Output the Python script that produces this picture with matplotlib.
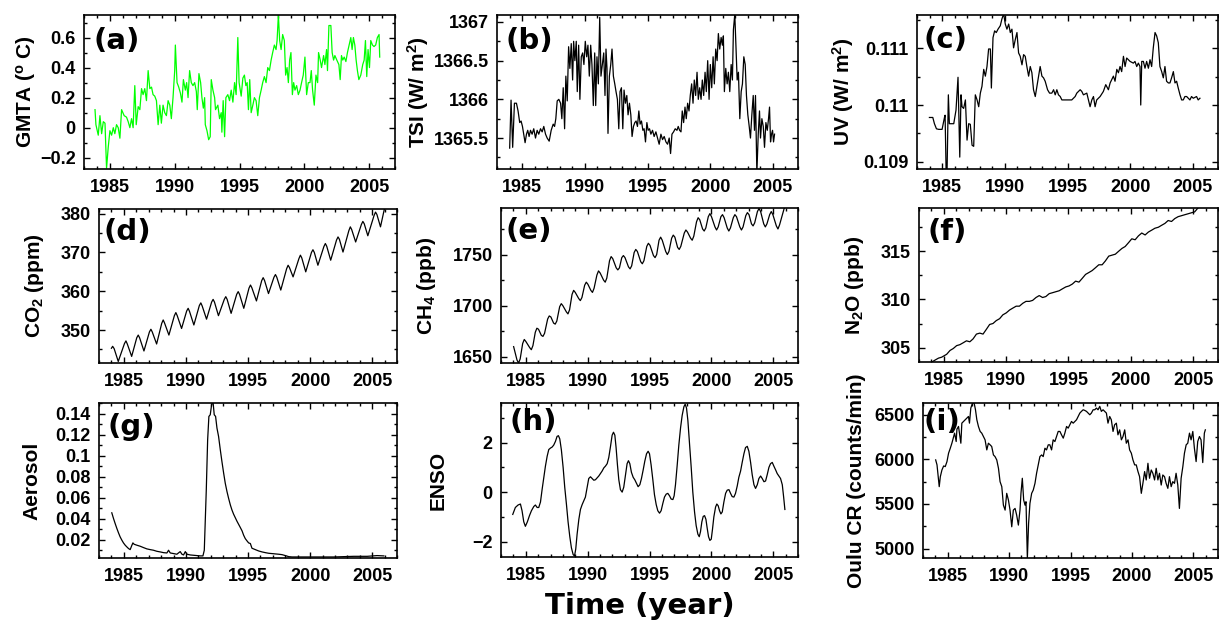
import matplotlib.pyplot as plt
from matplotlib.ticker import MultipleLocator, FixedLocator, FuncFormatter
from matplotlib import transforms

plt.rcParams['font.family'] = 'Liberation Sans'
plt.rcParams['font.weight'] = 'bold'
plt.rcParams['mathtext.fontset'] = 'custom'
plt.rcParams['mathtext.rm'] = 'Liberation Sans:bold'
plt.rcParams['mathtext.it'] = 'Liberation Sans:bold'
plt.rcParams['mathtext.bf'] = 'Liberation Sans:bold'
plt.rcParams['mathtext.default'] = 'rm'

# (a) global mean temperature anomaly
gmta_t = [1983.85, 1983.92, 1984.10, 1984.23, 1984.36, 1984.49, 1984.62, 1984.74, 1984.87, 1985.00,
          1985.13, 1985.26, 1985.38, 1985.51, 1985.64, 1985.77, 1985.90, 1986.10, 1986.28, 1986.41,
          1986.54, 1986.67, 1986.79, 1986.92, 1987.03, 1987.18, 1987.31, 1987.44, 1987.56, 1987.69,
          1987.82, 1987.95, 1988.08, 1988.21, 1988.33, 1988.46, 1988.59, 1988.72, 1988.85, 1988.97,
          1989.10, 1989.23, 1989.36, 1989.49, 1989.62, 1989.74, 1989.87, 1990.00, 1990.05, 1990.18,
          1990.31, 1990.44, 1990.56, 1990.67, 1990.82, 1990.92, 1991.03, 1991.15, 1991.28, 1991.41,
          1991.54, 1991.67, 1991.74, 1991.87, 1992.00, 1992.10, 1992.21, 1992.31, 1992.36, 1992.49,
          1992.62, 1992.74, 1992.82, 1992.95, 1993.08, 1993.15, 1993.33, 1993.46, 1993.59, 1993.64,
          1993.74, 1993.85, 1993.95, 1994.10, 1994.23, 1994.36, 1994.49, 1994.62, 1994.74, 1994.87,
          1994.97, 1995.13, 1995.26, 1995.38, 1995.49, 1995.59, 1995.69, 1995.79, 1995.90, 1996.03,
          1996.15, 1996.28, 1996.41, 1996.54, 1996.67, 1996.79, 1996.92, 1997.05, 1997.18, 1997.31,
          1997.44, 1997.56, 1997.69, 1997.82, 1997.90, 1998.00, 1998.10, 1998.21, 1998.33, 1998.46,
          1998.56, 1998.67, 1998.77, 1998.87, 1998.97, 1999.08, 1999.18, 1999.28, 1999.41, 1999.54,
          1999.67, 1999.79, 1999.92, 2000.05, 2000.18, 2000.31, 2000.44, 2000.54, 2000.64, 2000.77,
          2000.90, 2001.03, 2001.10, 2001.23, 2001.33, 2001.49, 2001.59, 2001.72, 2001.79, 2001.90,
          2002.05, 2002.15, 2002.26, 2002.36, 2002.51, 2002.67, 2002.77, 2002.87, 2002.97, 2003.08,
          2003.21, 2003.33, 2003.46, 2003.59, 2003.69, 2003.79, 2003.90, 2004.00, 2004.10, 2004.21,
          2004.36, 2004.51, 2004.62, 2004.72, 2004.82, 2004.92, 2005.03, 2005.13, 2005.26, 2005.38,
          2005.51, 2005.64, 2005.77, 2005.82]
gmta_v = [0.12, 0.02, -0.05, 0.08, -0.04, 0.04, 0.03, -0.27, -0.13, -0.02,
          -0.05, 0.0, -0.04, 0.02, 0.0, -0.07, 0.12, 0.08, 0.07, 0.04,
          0.0, 0.06, 0.0, 0.28, 0.02, 0.14, 0.12, 0.26, 0.22, 0.26,
          0.18, 0.38, 0.26, 0.27, 0.22, 0.21, 0.18, 0.02, 0.15, 0.03,
          0.15, 0.1, 0.08, 0.18, 0.15, 0.06, 0.2, 0.38, 0.55, 0.3,
          0.27, 0.23, 0.17, 0.32, 0.25, 0.3, 0.2, 0.38, 0.3, 0.28,
          0.3, 0.24, 0.12, 0.36, 0.3, 0.2, 0.13, 0.2, 0.02, -0.02,
          -0.08, -0.06, 0.32, 0.25, 0.2, 0.12, 0.15, 0.06, 0.1, -0.03,
          0.18, -0.06, 0.2, 0.22, 0.18, 0.25, 0.17, 0.3, 0.22, 0.6,
          0.3, 0.21, 0.33, 0.35, 0.28, 0.3, 0.12, 0.32, 0.1, 0.15,
          0.2, 0.18, 0.08, 0.2, 0.25, 0.3, 0.34, 0.3, 0.4, 0.38,
          0.45, 0.5, 0.55, 0.52, 0.58, 0.75, 0.58, 0.52, 0.62, 0.58,
          0.35, 0.4, 0.3, 0.45, 0.5, 0.22, 0.3, 0.25, 0.28, 0.22,
          0.25, 0.3, 0.35, 0.47, 0.22, 0.3, 0.3, 0.38, 0.25, 0.15,
          0.35, 0.3, 0.5, 0.45, 0.4, 0.48, 0.42, 0.52, 0.38, 0.68,
          0.68, 0.5, 0.45, 0.48, 0.45, 0.42, 0.32, 0.48, 0.45, 0.47,
          0.44, 0.5, 0.55, 0.6, 0.52, 0.6, 0.55, 0.45, 0.38, 0.32,
          0.35, 0.42, 0.45, 0.58, 0.34, 0.52, 0.4, 0.58, 0.55, 0.54,
          0.55, 0.6, 0.62, 0.47]

# (b) total solar irradiance
tsi_t = [1984.01, 1984.12, 1984.25, 1984.39, 1984.55, 1984.68, 1984.81, 1984.92, 1985.03, 1985.13,
         1985.24, 1985.35, 1985.45, 1985.56, 1985.67, 1985.80, 1985.93, 1986.07, 1986.20, 1986.33,
         1986.47, 1986.60, 1986.73, 1986.87, 1987.00, 1987.16, 1987.32, 1987.48, 1987.59, 1987.69,
         1987.80, 1987.93, 1988.07, 1988.17, 1988.28, 1988.39, 1988.49, 1988.60, 1988.71, 1988.81,
         1988.92, 1989.03, 1989.11, 1989.21, 1989.32, 1989.40, 1989.51, 1989.61, 1989.72, 1989.83,
         1989.93, 1990.04, 1990.15, 1990.25, 1990.36, 1990.47, 1990.57, 1990.68, 1990.79, 1990.87,
         1990.97, 1991.08, 1991.19, 1991.29, 1991.40, 1991.51, 1991.61, 1991.69, 1991.77, 1991.85,
         1991.96, 1992.07, 1992.17, 1992.28, 1992.39, 1992.49, 1992.60, 1992.71, 1992.81, 1992.92,
         1993.03, 1993.13, 1993.24, 1993.35, 1993.45, 1993.56, 1993.67, 1993.77, 1993.88, 1993.99,
         1994.09, 1994.20, 1994.31, 1994.41, 1994.52, 1994.63, 1994.73, 1994.84, 1994.95, 1995.05,
         1995.16, 1995.27, 1995.40, 1995.53, 1995.67, 1995.80, 1995.93, 1996.07, 1996.20, 1996.33,
         1996.47, 1996.60, 1996.73, 1996.84, 1996.95, 1997.08, 1997.21, 1997.35, 1997.45, 1997.56,
         1997.67, 1997.77, 1997.88, 1997.99, 1998.09, 1998.20, 1998.31, 1998.41, 1998.52, 1998.63,
         1998.73, 1998.84, 1998.95, 1999.05, 1999.16, 1999.27, 1999.37, 1999.48, 1999.59, 1999.69,
         1999.80, 1999.91, 2000.01, 2000.12, 2000.23, 2000.33, 2000.44, 2000.55, 2000.65, 2000.76,
         2000.87, 2000.97, 2001.05, 2001.13, 2001.24, 2001.35, 2001.45, 2001.56, 2001.67, 2001.77,
         2001.85, 2001.96, 2002.07, 2002.15, 2002.25, 2002.36, 2002.47, 2002.57, 2002.68, 2002.79,
         2002.89, 2003.00, 2003.11, 2003.21, 2003.32, 2003.43, 2003.53, 2003.61, 2003.72, 2003.83,
         2003.93, 2004.01, 2004.12, 2004.23, 2004.33, 2004.44, 2004.55, 2004.65, 2004.73, 2004.81,
         2004.89, 2004.97, 2005.05, 2005.13]
tsi_v = [1365.37, 1365.99, 1365.38, 1365.95, 1365.95, 1365.85, 1365.70, 1365.72, 1365.65, 1365.55,
         1365.44, 1365.55, 1365.60, 1365.52, 1365.60, 1365.55, 1365.62, 1365.50, 1365.60, 1365.55,
         1365.62, 1365.58, 1365.65, 1365.55, 1365.50, 1365.46, 1365.60, 1365.68, 1365.65, 1365.75,
         1365.98, 1366.00, 1365.95, 1365.75, 1366.15, 1365.62, 1366.30, 1365.98, 1366.68, 1366.40,
         1366.72, 1366.25, 1366.75, 1366.50, 1366.75, 1366.10, 1366.70, 1366.00, 1366.55, 1366.60,
         1366.45, 1366.75, 1366.55, 1366.70, 1366.30, 1366.70, 1366.45, 1365.92, 1366.60, 1365.92,
         1366.55, 1366.20, 1367.06, 1366.30, 1366.45, 1366.60, 1366.05, 1366.65, 1366.40, 1365.56,
         1366.30, 1366.45, 1366.65, 1366.30, 1366.20, 1366.10, 1366.00, 1365.62, 1366.10, 1366.15,
         1365.62, 1366.12, 1365.95, 1366.05, 1365.80, 1365.95, 1365.80, 1365.52, 1365.65, 1365.70,
         1365.72, 1365.65, 1365.85, 1365.68, 1365.72, 1365.60, 1365.62, 1365.45, 1365.70, 1365.60,
         1365.62, 1365.55, 1365.60, 1365.52, 1365.58, 1365.50, 1365.42, 1365.55, 1365.48, 1365.52,
         1365.45, 1365.42, 1365.50, 1365.30, 1365.55, 1365.58, 1365.62, 1365.60, 1365.65, 1365.60,
         1365.58, 1365.85, 1365.70, 1365.90, 1365.75, 1365.95, 1365.85, 1366.05, 1366.20, 1365.95,
         1366.25, 1366.05, 1366.35, 1366.00, 1366.15, 1366.00, 1366.25, 1366.05, 1366.35, 1366.10,
         1366.50, 1366.00, 1366.45, 1366.15, 1366.55, 1366.20, 1366.65, 1366.50, 1366.85, 1366.65,
         1366.80, 1366.70, 1366.82, 1366.10, 1366.40, 1366.20, 1366.35, 1366.10, 1366.45, 1366.25,
         1366.90, 1367.10, 1366.60, 1366.25, 1366.35, 1365.75, 1366.10, 1366.20, 1366.55, 1366.45,
         1366.05, 1365.80, 1365.65, 1365.50, 1365.80, 1366.05, 1365.60, 1366.05, 1365.05, 1365.55,
         1365.85, 1365.50, 1365.75, 1365.65, 1365.38, 1365.70, 1365.60, 1365.75, 1365.90, 1365.45,
         1365.55, 1365.60, 1365.45, 1365.55]

# (c) UV irradiance
uv_t = [1983.99, 1984.26, 1984.39, 1984.55, 1984.73, 1985.00, 1985.19, 1985.24, 1985.32, 1985.40,
        1985.50, 1985.58, 1985.80, 1985.93, 1986.11, 1986.27, 1986.41, 1986.51, 1986.59, 1986.72,
        1986.86, 1986.99, 1987.12, 1987.25, 1987.39, 1987.52, 1987.65, 1987.79, 1987.92, 1988.05,
        1988.18, 1988.32, 1988.45, 1988.58, 1988.71, 1988.85, 1988.93, 1989.06, 1989.19, 1989.32,
        1989.46, 1989.64, 1989.77, 1989.91, 1990.04, 1990.17, 1990.31, 1990.44, 1990.57, 1990.70,
        1990.84, 1990.97, 1991.10, 1991.23, 1991.37, 1991.50, 1991.63, 1991.76, 1991.90, 1992.03,
        1992.16, 1992.29, 1992.43, 1992.56, 1992.69, 1992.82, 1992.96, 1993.09, 1993.22, 1993.41,
        1993.57, 1993.75, 1993.89, 1994.02, 1994.15, 1994.28, 1994.42, 1994.55, 1994.81, 1995.08,
        1995.34, 1995.61, 1995.74, 1996.01, 1996.14, 1996.27, 1996.54, 1996.67, 1996.80, 1996.94,
        1997.07, 1997.20, 1997.33, 1997.60, 1997.86, 1998.05, 1998.26, 1998.40, 1998.66, 1998.79,
        1998.93, 1999.06, 1999.19, 1999.32, 1999.46, 1999.59, 1999.72, 1999.99, 2000.25, 2000.38,
        2000.52, 2000.65, 2000.78, 2000.84, 2000.92, 2001.05, 2001.18, 2001.31, 2001.45, 2001.58,
        2001.71, 2001.84, 2001.98, 2002.11, 2002.24, 2002.37, 2002.51, 2002.64, 2002.77, 2002.90,
        2003.04, 2003.17, 2003.30, 2003.44, 2003.57, 2003.70, 2003.83, 2003.97, 2004.10, 2004.23,
        2004.36, 2004.50, 2004.63, 2004.76, 2004.89, 2005.03, 2005.29, 2005.42, 2005.56]
uv_v = [0.10978, 0.10978, 0.10967, 0.10958, 0.10957, 0.10957, 0.10978, 0.10982, 0.10884, 0.10887,
        0.11018, 0.10967, 0.10967, 0.10967, 0.10991, 0.11049, 0.10908, 0.11018, 0.10997, 0.10994,
        0.11009, 0.10938, 0.10967, 0.10966, 0.10929, 0.10927, 0.11018, 0.11009, 0.10997, 0.11021,
        0.11033, 0.11063, 0.11051, 0.11068, 0.11099, 0.11099, 0.11030, 0.11119, 0.11131, 0.11128,
        0.11134, 0.11140, 0.11152, 0.11161, 0.11143, 0.11134, 0.11143, 0.11128, 0.11134, 0.11101,
        0.11116, 0.11128, 0.11092, 0.11086, 0.11071, 0.11089, 0.11086, 0.11068, 0.11051, 0.11068,
        0.11057, 0.11027, 0.11015, 0.11033, 0.11051, 0.11068, 0.11051, 0.11048, 0.11042, 0.11027,
        0.11021, 0.11021, 0.11027, 0.11018, 0.11027, 0.11018, 0.11015, 0.11009, 0.11009, 0.11009,
        0.11009, 0.11015, 0.11021, 0.11027, 0.11024, 0.11018, 0.11021, 0.11009, 0.10997, 0.11009,
        0.11015, 0.10997, 0.11009, 0.11015, 0.11024, 0.11036, 0.11027, 0.11039, 0.11051, 0.11042,
        0.11063, 0.11057, 0.11068, 0.11059, 0.11086, 0.11068, 0.11083, 0.11077, 0.11074, 0.11077,
        0.11068, 0.11074, 0.11068, 0.11000, 0.11077, 0.11077, 0.11065, 0.11077, 0.11065, 0.11080,
        0.11068, 0.11101, 0.11128, 0.11122, 0.11110, 0.11068, 0.11059, 0.11048, 0.11068, 0.11042,
        0.11039, 0.11039, 0.11048, 0.11059, 0.11039, 0.11042, 0.11030, 0.11018, 0.11009, 0.11009,
        0.11015, 0.11015, 0.11012, 0.11009, 0.11015, 0.11012, 0.11015, 0.11009, 0.11012]

# (d) CO2: shoulder, peak, shoulder, trough for each year
co2_t = [1984.00, 1984.10, 1984.22, 1984.55,
         1985.05, 1985.17, 1985.28, 1985.63,
         1986.04, 1986.16, 1986.27, 1986.62,
         1987.06, 1987.18, 1987.29, 1987.64,
         1988.05, 1988.17, 1988.28, 1988.63,
         1989.07, 1989.19, 1989.30, 1989.65,
         1990.06, 1990.18, 1990.29, 1990.64,
         1991.08, 1991.20, 1991.31, 1991.66,
         1992.07, 1992.19, 1992.30, 1992.62,
         1993.09, 1993.21, 1993.32, 1993.64,
         1994.09, 1994.21, 1994.32, 1994.66,
         1995.08, 1995.20, 1995.31, 1995.68,
         1996.10, 1996.22, 1996.33, 1996.65,
         1997.09, 1997.21, 1997.32, 1997.64,
         1998.11, 1998.23, 1998.34, 1998.63,
         1999.10, 1999.22, 1999.33, 1999.65,
         2000.11, 2000.23, 2000.34, 2000.63,
         2001.11, 2001.23, 2001.34, 2001.66,
         2002.13, 2002.25, 2002.36, 2002.65,
         2003.12, 2003.24, 2003.35, 2003.67,
         2004.13, 2004.25, 2004.36, 2004.65,
         2005.15, 2005.27, 2005.38, 2005.67,
         2005.99]
co2_v = [345.3, 345.8, 345.2, 341.9,
         346.5, 347.2, 346.4, 343.2,
         348.0, 348.7, 348.0, 344.6,
         349.5, 350.2, 349.5, 346.4,
         351.7, 352.6, 351.8, 348.7,
         353.7, 354.5, 353.7, 350.4,
         354.9, 355.6, 354.8, 351.3,
         356.3, 357.0, 356.2, 352.8,
         357.2, 357.9, 357.2, 353.7,
         357.9, 358.6, 357.9, 354.3,
         359.2, 359.9, 359.2, 355.6,
         360.8, 361.6, 360.9, 357.5,
         362.7, 363.5, 362.8, 359.4,
         363.6, 364.3, 363.6, 360.3,
         365.8, 366.7, 366.1, 363.7,
         368.4, 369.3, 368.6, 365.0,
         370.0, 370.7, 370.0, 366.7,
         371.5, 372.3, 371.6, 368.0,
         373.2, 374.0, 373.4, 370.1,
         375.6, 376.6, 375.9, 372.7,
         377.2, 378.0, 377.4, 374.3,
         379.5, 380.4, 379.8, 376.6,
         381.3]

# (e) CH4: shoulder, trough, shoulder, shoulder, peak for each year
ch4_t = [1984.02,
         1984.29, 1984.42, 1984.55, 1984.75, 1984.88,
         1985.01, 1985.32, 1985.45, 1985.58, 1985.77, 1985.90,
         1986.03, 1986.26, 1986.39, 1986.52, 1986.77, 1986.90,
         1987.03, 1987.25, 1987.38, 1987.51, 1987.74, 1987.87,
         1988.00, 1988.28, 1988.41, 1988.54, 1988.74, 1988.87,
         1989.00, 1989.28, 1989.41, 1989.54, 1989.76, 1989.89,
         1990.02, 1990.26, 1990.39, 1990.52, 1990.75, 1990.88,
         1991.01, 1991.29, 1991.42, 1991.55, 1991.77, 1991.90,
         1992.03, 1992.31, 1992.44, 1992.57, 1992.76, 1992.89,
         1993.02, 1993.30, 1993.43, 1993.56, 1993.76, 1993.89,
         1994.02, 1994.29, 1994.42, 1994.55, 1994.78, 1994.91,
         1995.04, 1995.32, 1995.45, 1995.58, 1995.77, 1995.90,
         1996.03, 1996.31, 1996.44, 1996.57, 1996.79, 1996.92,
         1997.05, 1997.27, 1997.40, 1997.53, 1997.81, 1997.94,
         1998.07, 1998.32, 1998.45, 1998.58, 1998.80, 1998.93,
         1999.06, 1999.29, 1999.42, 1999.55, 1999.75, 1999.88,
         2000.01, 2000.29, 2000.42, 2000.55, 2000.77, 2000.90,
         2001.03, 2001.28, 2001.41, 2001.54, 2001.77, 2001.90,
         2002.03, 2002.30, 2002.43, 2002.56, 2002.78, 2002.91,
         2003.04, 2003.24, 2003.37, 2003.50, 2003.72, 2003.85,
         2003.98, 2004.23, 2004.36, 2004.49, 2004.71, 2004.84,
         2004.97, 2005.25, 2005.38, 2005.51, 2005.95]
ch4_v = [1660,
         1647, 1644, 1648, 1663, 1667,
         1665, 1659, 1657, 1661, 1674, 1678,
         1677, 1671, 1670, 1673, 1687, 1690,
         1689, 1683, 1682, 1685, 1699, 1702,
         1700, 1694, 1692, 1696, 1711, 1715,
         1713, 1707, 1705, 1708, 1720, 1723,
         1721, 1715, 1713, 1717, 1730, 1734,
         1732, 1725, 1723, 1727, 1744, 1748,
         1746, 1737, 1735, 1737, 1747, 1749,
         1747, 1738, 1736, 1739, 1752, 1755,
         1753, 1743, 1741, 1744, 1758, 1761,
         1759, 1749, 1747, 1750, 1764, 1767,
         1764, 1753, 1750, 1753, 1766, 1769,
         1767, 1757, 1755, 1758, 1771, 1774,
         1772, 1766, 1764, 1768, 1782, 1786,
         1784, 1775, 1773, 1776, 1787, 1790,
         1787, 1777, 1774, 1777, 1787, 1789,
         1786, 1776, 1773, 1776, 1786, 1789,
         1787, 1777, 1774, 1777, 1788, 1791,
         1789, 1780, 1778, 1781, 1792, 1795,
         1792, 1780, 1777, 1780, 1789, 1792,
         1789, 1778, 1775, 1779, 1798]

# (f) N2O
n2o_t = [1984.03, 1984.29, 1984.56, 1984.82, 1984.95, 1985.22, 1985.49, 1985.75, 1986.02, 1986.28,
         1986.55, 1986.81, 1987.08, 1987.34, 1987.61, 1987.88, 1988.14, 1988.41, 1988.67, 1988.94,
         1989.20, 1989.47, 1989.73, 1990.00, 1990.27, 1990.53, 1990.80, 1991.06, 1991.33, 1991.59,
         1991.86, 1992.12, 1992.39, 1992.65, 1992.92, 1993.18, 1993.45, 1993.72, 1993.98, 1994.25,
         1994.51, 1994.78, 1995.04, 1995.31, 1995.57, 1995.84, 1996.11, 1996.37, 1996.64, 1996.90,
         1997.17, 1997.43, 1997.70, 1997.96, 1998.23, 1998.49, 1998.76, 1999.02, 1999.29, 1999.55,
         1999.82, 2000.08, 2000.35, 2000.61, 2000.88, 2001.15, 2001.41, 2001.68, 2001.94, 2002.21,
         2002.47, 2002.74, 2003.00, 2003.27, 2003.53, 2003.80, 2004.07, 2004.33, 2004.60, 2004.86,
         2005.13, 2005.39, 2005.66, 2006.00]
n2o_v = [303.5, 303.7, 303.9, 304.0, 304.1, 304.3, 304.7, 304.9, 305.2, 305.3,
         305.5, 305.7, 305.6, 305.9, 306.4, 306.5, 306.4, 306.9, 307.4, 307.5,
         307.8, 308.0, 308.4, 308.6, 308.9, 309.1, 309.3, 309.3, 309.6, 309.8,
         309.8, 309.9, 310.2, 310.4, 310.2, 310.3, 310.6, 310.7, 310.8, 310.9,
         311.1, 311.3, 311.4, 311.6, 311.9, 311.8, 312.2, 312.6, 312.8, 313.0,
         313.3, 313.6, 313.6, 314.0, 314.5, 314.6, 314.7, 315.0, 315.3, 315.5,
         315.9, 316.3, 316.2, 316.6, 316.9, 316.7, 317.0, 317.2, 317.4, 317.5,
         317.7, 317.9, 318.2, 318.1, 318.4, 318.6, 318.7, 318.8, 318.9, 319.0,
         319.1, 319.5, 319.7, 320.0]

# (g) stratospheric aerosol
aer_t = [1984.03, 1984.17, 1984.30, 1984.44, 1984.57, 1984.70, 1984.84, 1984.97, 1985.11, 1985.24,
         1985.38, 1985.51, 1985.65, 1985.73, 1985.83, 1986.05, 1986.32, 1986.59, 1986.85, 1987.12,
         1987.39, 1987.66, 1987.93, 1988.20, 1988.47, 1988.60, 1988.74, 1989.01, 1989.27, 1989.54,
         1989.68, 1989.81, 1989.95, 1990.08, 1990.35, 1990.62, 1990.89, 1991.16, 1991.37, 1991.48,
         1991.64, 1991.75, 1991.85, 1991.96, 1992.07, 1992.18, 1992.28, 1992.39, 1992.50, 1992.63,
         1992.77, 1992.90, 1993.04, 1993.17, 1993.31, 1993.44, 1993.58, 1993.71, 1993.84, 1994.11,
         1994.38, 1994.52, 1994.65, 1994.78, 1994.92, 1995.05, 1995.19, 1995.32, 1995.59, 1995.86,
         1996.13, 1996.40, 1996.67, 1996.94, 1997.20, 1997.47, 1997.74, 1998.01, 1998.28, 1998.55,
         1998.95, 1999.49, 2000.56, 2001.91, 2002.72, 2003.52, 2004.60, 2005.40, 2005.94]
aer_v = [0.0455, 0.0400, 0.0353, 0.0305, 0.0264, 0.0226, 0.0194, 0.0168, 0.0146, 0.0130,
         0.0114, 0.0104, 0.0146, 0.0168, 0.0155, 0.0146, 0.0136, 0.0123, 0.0111, 0.0104,
         0.0098, 0.0088, 0.0082, 0.0075, 0.0072, 0.0098, 0.0072, 0.0066, 0.0060, 0.0085,
         0.0060, 0.0053, 0.0085, 0.0060, 0.0053, 0.0050, 0.0047, 0.0044, 0.0044, 0.0098,
         0.0672, 0.1151, 0.1374, 0.1390, 0.1486, 0.1518, 0.1390, 0.1374, 0.1263, 0.1183,
         0.1055, 0.0944, 0.0832, 0.0736, 0.0656, 0.0592, 0.0529, 0.0481, 0.0442, 0.0375,
         0.0315, 0.0283, 0.0241, 0.0209, 0.0187, 0.0168, 0.0162, 0.0117, 0.0104, 0.0091,
         0.0082, 0.0075, 0.0069, 0.0066, 0.0063, 0.0060, 0.0056, 0.0047, 0.0037, 0.0034,
         0.0034, 0.0034, 0.0034, 0.0034, 0.0037, 0.0040, 0.0040, 0.0047, 0.0044]

# (h) ENSO index
enso_t = [1983.95, 1984.16, 1984.38, 1984.57, 1984.70, 1984.84, 1984.97, 1985.13, 1985.30, 1985.46,
          1985.65, 1985.78, 1985.92, 1986.05, 1986.19, 1986.32, 1986.46, 1986.59, 1986.73, 1986.86,
          1987.00, 1987.13, 1987.26, 1987.40, 1987.53, 1987.64, 1987.75, 1987.88, 1988.02, 1988.15,
          1988.29, 1988.42, 1988.56, 1988.69, 1988.83, 1988.94, 1989.04, 1989.15, 1989.29, 1989.42,
          1989.56, 1989.69, 1989.82, 1989.96, 1990.09, 1990.23, 1990.36, 1990.50, 1990.63, 1990.77,
          1990.90, 1991.04, 1991.17, 1991.31, 1991.44, 1991.58, 1991.71, 1991.85, 1991.98, 1992.09,
          1992.20, 1992.30, 1992.41, 1992.52, 1992.65, 1992.79, 1992.92, 1993.06, 1993.19, 1993.30,
          1993.41, 1993.54, 1993.68, 1993.81, 1993.95, 1994.08, 1994.22, 1994.35, 1994.49, 1994.62,
          1994.76, 1994.89, 1995.00, 1995.13, 1995.27, 1995.40, 1995.54, 1995.67, 1995.81, 1995.94,
          1996.08, 1996.21, 1996.35, 1996.48, 1996.62, 1996.75, 1996.89, 1996.99, 1997.10, 1997.24,
          1997.37, 1997.51, 1997.64, 1997.78, 1997.88, 1997.99, 1998.10, 1998.23, 1998.37, 1998.50,
          1998.64, 1998.77, 1998.91, 1999.02, 1999.12, 1999.23, 1999.34, 1999.45, 1999.56, 1999.66,
          1999.77, 1999.88, 1999.99, 2000.09, 2000.20, 2000.34, 2000.44, 2000.55, 2000.66, 2000.77,
          2000.88, 2001.01, 2001.15, 2001.28, 2001.42, 2001.55, 2001.68, 2001.82, 2001.95, 2002.09,
          2002.22, 2002.36, 2002.49, 2002.63, 2002.76, 2002.90, 2003.03, 2003.17, 2003.30, 2003.44,
          2003.57, 2003.71, 2003.84, 2003.98, 2004.11, 2004.25, 2004.38, 2004.51, 2004.65, 2004.78,
          2004.92, 2005.05, 2005.19, 2005.32, 2005.46, 2005.59, 2005.73, 2005.84, 2005.94]
enso_v = [-0.90, -0.62, -0.52, -0.48, -0.75, -1.20, -1.38, -1.20, -0.95, -0.75,
          -0.58, -0.52, -0.62, -0.62, -0.40, 0.10, 0.60, 1.05, 1.45, 1.72,
          1.78, 1.82, 1.90, 2.05, 2.25, 2.28, 2.15, 1.70, 1.00, 0.20,
          -0.50, -1.20, -1.80, -2.25, -2.52, -2.58, -2.30, -1.70, -1.10, -0.70,
          -0.50, -0.35, -0.20, 0.20, 0.55, 0.62, 0.55, 0.48, 0.50, 0.58,
          0.65, 0.75, 0.85, 0.98, 1.05, 1.15, 1.40, 1.85, 2.30, 2.42,
          2.30, 1.80, 1.10, 0.50, 0.10, 0.00, 0.20, 0.70, 1.15, 1.27,
          1.15, 0.80, 0.60, 0.50, 0.35, 0.22, 0.30, 0.55, 0.90, 1.25,
          1.55, 1.65, 1.55, 1.10, 0.50, -0.10, -0.50, -0.75, -0.85, -0.75,
          -0.45, -0.20, -0.08, -0.05, -0.15, -0.28, -0.30, -0.15, 0.30, 1.10,
          1.90, 2.60, 3.10, 3.45, 3.55, 3.40, 2.90, 2.00, 1.00, 0.00,
          -0.80, -1.35, -1.70, -1.80, -1.60, -1.20, -0.98, -0.95, -1.10, -1.45,
          -1.80, -1.95, -1.90, -1.50, -1.00, -0.60, -0.48, -0.55, -0.75, -0.88,
          -0.80, -0.40, -0.05, 0.08, 0.10, -0.05, -0.18, -0.20, -0.05, 0.25,
          0.60, 0.85, 1.20, 1.55, 1.80, 1.85, 1.65, 1.20, 0.70, 0.30,
          0.15, 0.30, 0.55, 0.65, 0.55, 0.42, 0.45, 0.70, 1.00, 1.15,
          1.20, 1.05, 0.90, 0.75, 0.65, 0.55, 0.30, -0.20, -0.70]

# (i) Oulu cosmic ray counts
oulu_t = [1984.03, 1984.14, 1984.32, 1984.41, 1984.54, 1984.68, 1984.81, 1984.95, 1985.08, 1985.22,
          1985.35, 1985.57, 1985.70, 1985.76, 1985.89, 1986.08, 1986.16, 1986.30, 1986.43, 1986.57,
          1986.70, 1986.78, 1986.89, 1987.03, 1987.16, 1987.27, 1987.38, 1987.51, 1987.65, 1987.78,
          1987.92, 1988.05, 1988.19, 1988.32, 1988.46, 1988.59, 1988.73, 1988.86, 1989.00, 1989.14,
          1989.27, 1989.41, 1989.54, 1989.68, 1989.81, 1989.95, 1990.08, 1990.22, 1990.35, 1990.49,
          1990.62, 1990.76, 1990.89, 1990.97, 1991.08, 1991.19, 1991.30, 1991.38, 1991.49, 1991.59,
          1991.70, 1991.84, 1991.97, 1992.11, 1992.24, 1992.38, 1992.51, 1992.65, 1992.78, 1992.92,
          1993.05, 1993.19, 1993.32, 1993.46, 1993.59, 1993.73, 1993.86, 1994.00, 1994.14, 1994.27,
          1994.41, 1994.54, 1994.68, 1994.81, 1994.95, 1995.08, 1995.22, 1995.35, 1995.49, 1995.62,
          1995.76, 1995.89, 1996.03, 1996.16, 1996.30, 1996.43, 1996.57, 1996.70, 1996.84, 1996.97,
          1997.11, 1997.24, 1997.38, 1997.51, 1997.65, 1997.78, 1997.92, 1998.05, 1998.19, 1998.32,
          1998.46, 1998.59, 1998.73, 1998.86, 1999.00, 1999.14, 1999.27, 1999.41, 1999.54, 1999.68,
          1999.81, 1999.95, 2000.08, 2000.22, 2000.35, 2000.49, 2000.62, 2000.76, 2000.89, 2001.03,
          2001.16, 2001.30, 2001.43, 2001.57, 2001.70, 2001.84, 2001.97, 2002.11, 2002.24, 2002.38,
          2002.51, 2002.65, 2002.78, 2002.92, 2003.05, 2003.19, 2003.32, 2003.46, 2003.59, 2003.73,
          2003.86, 2004.00, 2004.14, 2004.27, 2004.41, 2004.54, 2004.68, 2004.81, 2004.95, 2005.08,
          2005.22, 2005.35, 2005.49, 2005.62, 2005.76, 2005.89, 2005.97]
oulu_v = [5994, 5938, 5694, 5806, 5881, 5926, 5919, 5975, 6069, 6125,
          6181, 6294, 6200, 6339, 6369, 6181, 6406, 6425, 6444, 6463,
          6481, 6406, 6575, 6631, 6631, 6556, 6444, 6369, 6313, 6294,
          6256, 6219, 6106, 6181, 6163, 6144, 6050, 6031, 5994, 5900,
          5750, 5694, 5487, 5431, 5619, 5544, 5431, 5244, 5431, 5450,
          5375, 5263, 5431, 5619, 5788, 5544, 5487, 5525, 4888, 5281,
          5506, 5619, 5656, 5731, 5844, 5938, 6031, 6050, 6031, 6125,
          6106, 6163, 6163, 6106, 6219, 6200, 6256, 6313, 6313, 6275,
          6238, 6294, 6369, 6350, 6388, 6425, 6406, 6425, 6444, 6481,
          6519, 6538, 6556, 6549, 6538, 6519, 6500, 6519, 6556, 6556,
          6575, 6556, 6594, 6538, 6556, 6538, 6519, 6406, 6481, 6444,
          6313, 6388, 6406, 6275, 6331, 6219, 6256, 6331, 6181, 6219,
          6106, 6069, 5994, 5938, 5938, 5863, 5806, 5619, 5731, 5863,
          5769, 5956, 5788, 5881, 5844, 5769, 5900, 5769, 5844, 5712,
          5825, 5806, 5731, 5675, 5806, 5694, 5750, 5731, 5844, 5712,
          5450, 5788, 5919, 6069, 6163, 6181, 6294, 6219, 6313, 6125,
          5975, 6200, 6256, 6219, 5964, 6294, 6331]

W, H = 1219, 621
fig = plt.figure(figsize=(W / 100, H / 100), dpi=100)

fmt = FuncFormatter(lambda v, p: ('%g' % v).replace('-', '\u2212'))


def panel(box, t, v, color, ylabel, label_x, ylim, yticks, yminor, tag, tag_dx, tag_dy):
    left, top, right, bottom = box
    ax = fig.add_axes([left / W, 1 - bottom / H, (right - left) / W, (bottom - top) / H])
    ax.plot(t, v, color=color, lw=0.9)
    ax.set_xlim(1983, 2007)
    ax.set_ylim(*ylim)
    ax.xaxis.set_major_locator(FixedLocator([1985, 1990, 1995, 2000, 2005]))
    ax.xaxis.set_minor_locator(MultipleLocator(1))
    ax.yaxis.set_major_locator(FixedLocator(yticks))
    ax.yaxis.set_minor_locator(MultipleLocator(yminor))
    ax.yaxis.set_major_formatter(fmt)
    ax.tick_params(which='both', direction='in', top=True, right=True,
                   labelsize=13, width=1)
    ax.tick_params(which='major', length=4)
    ax.tick_params(which='minor', length=2)
    ax.tick_params(axis='x', which='major', pad=7.5)
    ax.tick_params(axis='y', which='major', pad=6)
    for s in ax.spines.values():
        s.set_linewidth(1.2)
    ax.set_ylabel(ylabel, fontsize=15, fontweight='bold')
    # label centre placed where the reference has it
    ax.yaxis.set_label_coords((label_x - left) / (right - left), 0.5)
    ax.yaxis.label.set_va('center')
    off = transforms.offset_copy(ax.transAxes, fig=fig, x=tag_dx, y=-tag_dy, units='dots')
    ax.text(0, 1, tag, transform=off, ha='left', va='top', fontsize=21,
            fontweight='bold', family='DejaVu Sans')
    return ax


panel((84, 15, 395, 169), gmta_t, gmta_v, '#00ff00', r'GMTA ($^o$ C)', 26,
      (-0.275, 0.75), [-0.2, 0, 0.2, 0.4, 0.6], 0.1, '(a)', 9, 12)
panel((497, 15, 798, 169), tsi_t, tsi_v, 'black', r'TSI (W/ m$^2$)', 418,
      (1365.1, 1367.09), [1365.5, 1366, 1366.5, 1367], 0.25, '(b)', 8, 12)
panel((917, 15, 1218, 169), uv_t, uv_v, 'black', r'UV (W/ m$^2$)', 843,
      (0.10887, 0.11159), [0.109, 0.110, 0.111], 0.0005, '(c)', 7, 11)
panel((99, 209, 397, 363), co2_t, co2_v, 'black', r'CO$_2$ (ppm)', 35,
      (341.5, 381.2), [350, 360, 370, 380], 5, '(d)', 4, 9)
panel((501, 208, 798, 363), ch4_t, ch4_v, 'black', r'CH$_4$ (ppb)', 427,
      (1644, 1795.5), [1650, 1700, 1750], 25, '(e)', 4, 9)
panel((919, 208, 1218, 362), n2o_t, n2o_v, 'black', r'N$_2$O (ppb)', 855,
      (303.5, 319.5), [305, 310, 315], 2.5, '(f)', 8, 10)
panel((99, 403, 397, 558), aer_t, aer_v, 'black', 'Aerosol', 32,
      (0.0024, 0.1502), [0.02, 0.04, 0.06, 0.08, 0.1, 0.12, 0.14], 0.01, '(g)', 9, 10)
panel((501, 403, 798, 557), enso_t, enso_v, 'black', 'ENSO', 438,
      (-2.62, 3.6), [-2, 0, 2], 1, '(h)', 8, 5)
panel((923, 403, 1218, 558), oulu_t, oulu_v, 'black', 'Oulu CR (counts/min)', 857,
      (4894, 6632), [5000, 5500, 6000, 6500], 250, '(i)', 1, 5)

fig.text(640 / W, 1 - 614 / H, 'Time (year)', ha='center', va='baseline',
         fontsize=21, fontweight='bold', family='DejaVu Sans')

fig.savefig('out.png', dpi=100)
